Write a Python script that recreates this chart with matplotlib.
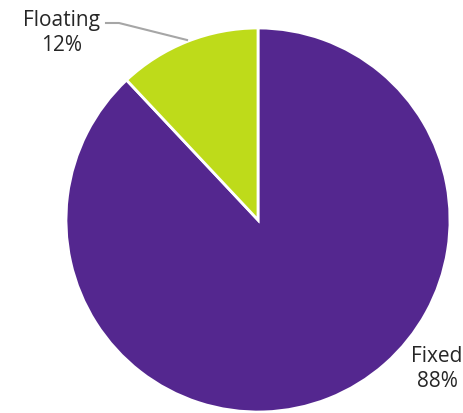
import matplotlib.pyplot as plt

labels = ["Fixed", "Floating"]
shares = [88, 12]
colors = ["#54278F", "#BEDB1A"]

W, H = 464, 414
fig = plt.figure(figsize=(W / 100, H / 100), dpi=100)
ax = fig.add_axes([0, 0, 1, 1])

cx, cy, r = 258, H - 221, 192
ax.pie(shares, colors=colors, startangle=90, counterclock=False,
       center=(cx, cy), radius=r, frame=True,
       wedgeprops=dict(edgecolor="white", linewidth=2))
ax.set_xlim(0, W)
ax.set_ylim(0, H)
ax.set_aspect("equal")
ax.axis("off")

font = dict(fontsize=15, family=["Open Sans", "DejaVu Sans"], color="#262626",
            ha="center", va="center", linespacing=1.3)
ax.text(437, H - 369, "%s\n%d%%" % (labels[0], shares[0]), **font)
ax.text(62, H - 33, "%s\n%d%%" % (labels[1], shares[1]), **font)
# leader line for the small slice
ax.plot([106, 119, 187], [H - 24, H - 24, H - 41], color="#A6A6A6", lw=1.5)

fig.savefig("out.png", dpi=100)
